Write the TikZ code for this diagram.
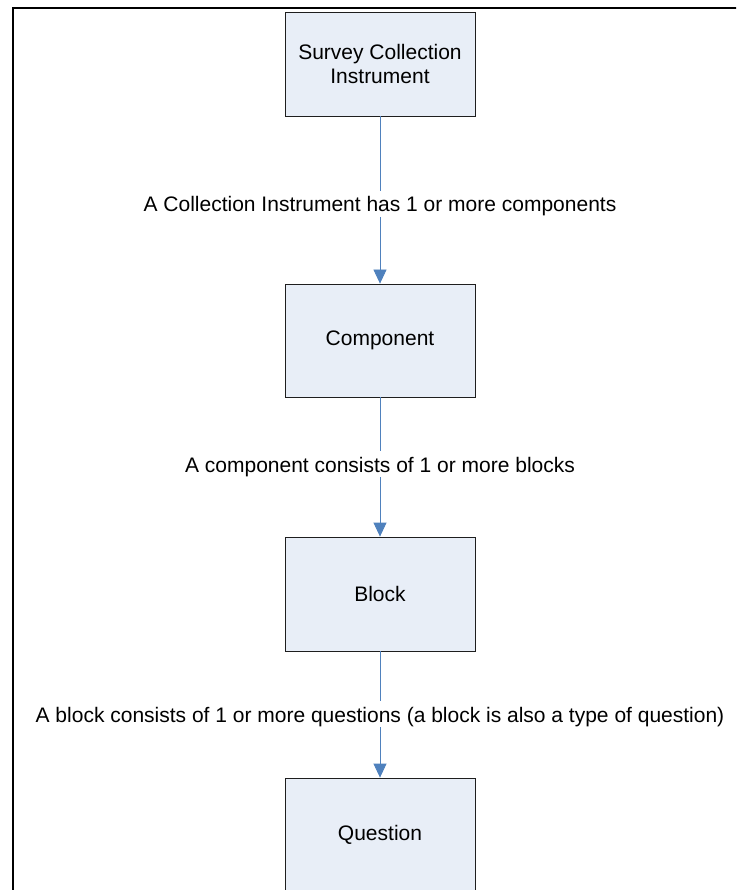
\documentclass[tikz,border=0pt]{standalone}
\usepackage{fontspec}
\setmainfont{Liberation Sans}
\usetikzlibrary{arrows.meta}
\definecolor{boxfill}{RGB}{232,238,247}
\definecolor{boxline}{RGB}{30,30,30}
\definecolor{linkblue}{RGB}{79,129,189}
\tikzset{
  entity/.style={draw=boxline, line width=0.8pt, fill=boxfill,
    minimum width=190pt, inner sep=0pt, align=center,
    font=\fontsize{21}{23.5}\selectfont},
  link/.style={draw=linkblue, line width=0.8pt,
    -{Triangle[length=14pt,width=13pt]}},
  lbl/.style={fill=white, inner xsep=3pt, inner ysep=2pt,
    text height=19pt, text depth=3pt, anchor=base,
    font=\fontsize{21}{23.5}\selectfont}
}
\begin{document}
\begin{tikzpicture}[x=1pt,y=-1pt]
  \useasboundingbox (0,0) rectangle (736,890);
  \clip (0,0) rectangle (736,890);
  \fill[white] (0,0) rectangle (736,890);

  % outer frame (left and top edges)
  \draw[line width=2pt] (13,895) -- (13,8) -- (740,8);

  % entities
  \node[entity, minimum height=104pt] (sci) at (380,64)
    {Survey Collection\\Instrument};
  \node[entity, minimum height=113pt] (comp) at (380,340.5) {Component};
  \node[entity, minimum height=114pt] (blk) at (380,594) {Block};
  \node[entity, minimum height=113pt] (qst) at (380,834.5) {Question};

  % relationships
  \draw[link] (sci) -- (comp)
    node[lbl] (l1) at (380,212) {A Collection Instrument has 1 or more components};
  \draw[link] (comp) -- (blk)
    node[lbl] (l2) at (380,472) {A component consists of 1 or more blocks};
  \draw[link] (blk) -- (qst)
    node[lbl] (l3) at (380,722) {A block consists of 1 or more questions (a block is also a type of question)};
\end{tikzpicture}
\end{document}
